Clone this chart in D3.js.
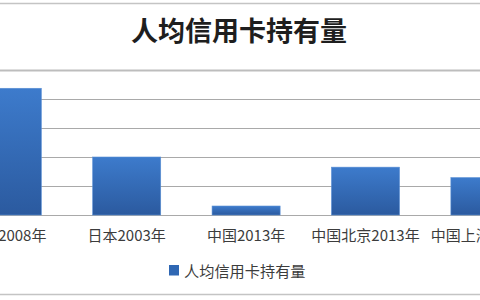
<!DOCTYPE html>
<html>
<head>
<meta charset="utf-8">
<script src="https://cdn.jsdelivr.net/npm/d3@7"></script>
<style>
  html, body { margin: 0; padding: 0; background: #fff; overflow: hidden; }
  svg { display: block; font-family: "Noto Sans CJK SC", "Noto Sans", sans-serif; }
</style>
</head>
<body>
<svg id="chart"></svg>
<script>
var width = 480;
var height = 300;

// chart data (cards per person)
var categories = ['美国2008年', '日本2003年', '中国2013年', '中国北京2013年', '中国上海2013年'];
var values = [4.37, 2.0, 0.31, 1.65, 1.29];
var yTicks = [0, 1, 2, 3, 4, 5];
var seriesName = '人均信用卡持有量';
var title = '人均信用卡持有量';

var svg = d3.select('#chart')
  .attr('width', width)
  .attr('height', height);

var defs = svg.append('defs');
var grad = defs.append('linearGradient')
  .attr('id', 'barGrad')
  .attr('x1', 0).attr('y1', 0)
  .attr('x2', 0).attr('y2', 1);
grad.append('stop').attr('offset', '0%').attr('stop-color', '#3d7bcc');
grad.append('stop').attr('offset', '100%').attr('stop-color', '#2b5a9f');

// the original chart is wider than the window, so the band range runs off both sides
var x = d3.scaleBand()
  .domain(categories)
  .range([-52.4, 544.6])
  .paddingInner(0.43)
  .paddingOuter(0.215);

var y = d3.scaleLinear()
  .domain([0, 5])
  .range([215, 70]);

// outer frame lines
svg.append('line')
  .attr('x1', 0).attr('x2', width)
  .attr('y1', 3.5).attr('y2', 3.5)
  .attr('stroke', '#c4c4c4').attr('stroke-width', 1.5);
svg.append('line')
  .attr('x1', 0).attr('x2', width)
  .attr('y1', 294.5).attr('y2', 294.5)
  .attr('stroke', '#c4c4c4').attr('stroke-width', 1.5);

// title
svg.append('text')
  .attr('x', 239)
  .attr('y', 41)
  .attr('text-anchor', 'middle')
  .attr('font-size', 27)
  .attr('font-weight', 'bold')
  .attr('fill', '#1e1e1e')
  .text(title);

// gridlines
svg.append('g')
  .selectAll('line')
  .data(yTicks)
  .enter().append('line')
  .attr('x1', 0).attr('x2', width)
  .attr('y1', function (d) { return Math.round(y(d)) + 0.5; })
  .attr('y2', function (d) { return Math.round(y(d)) + 0.5; })
  .attr('stroke', function (d) { return d === 5 ? '#bdbdbd' : '#a9a9a9'; })
  .attr('stroke-width', function (d) { return d === 5 ? 2 : 1; });

// bars
svg.append('g')
  .selectAll('rect')
  .data(values)
  .enter().append('rect')
  .attr('x', function (d, i) { return x(categories[i]); })
  .attr('width', x.bandwidth())
  .attr('y', function (d) { return y(d); })
  .attr('height', function (d) { return y(0) - y(d); })
  .attr('fill', 'url(#barGrad)')
  .attr('stroke', '#5a8fd4')
  .attr('stroke-width', 0.6);

// x axis
var xAxis = svg.append('g')
  .attr('transform', 'translate(0,' + y(0) + ')')
  .call(d3.axisBottom(x).tickSize(0).tickPadding(0));
xAxis.select('.domain').remove();
xAxis.selectAll('text')
  .attr('y', 25.5)
  .attr('dy', 0)
  .attr('font-size', 15)
  .attr('font-family', '"Noto Sans CJK SC", sans-serif')
  .attr('fill', '#3c3c3c');

// legend
var legend = svg.append('g').attr('transform', 'translate(169,265)');
legend.append('rect')
  .attr('width', 10).attr('height', 10.5)
  .attr('fill', '#2f67b3');
legend.append('text')
  .attr('x', 15)
  .attr('y', 11.5)
  .attr('font-size', 15.2)
  .attr('fill', '#3c3c3c')
  .text(seriesName);
</script>
</body>
</html>
